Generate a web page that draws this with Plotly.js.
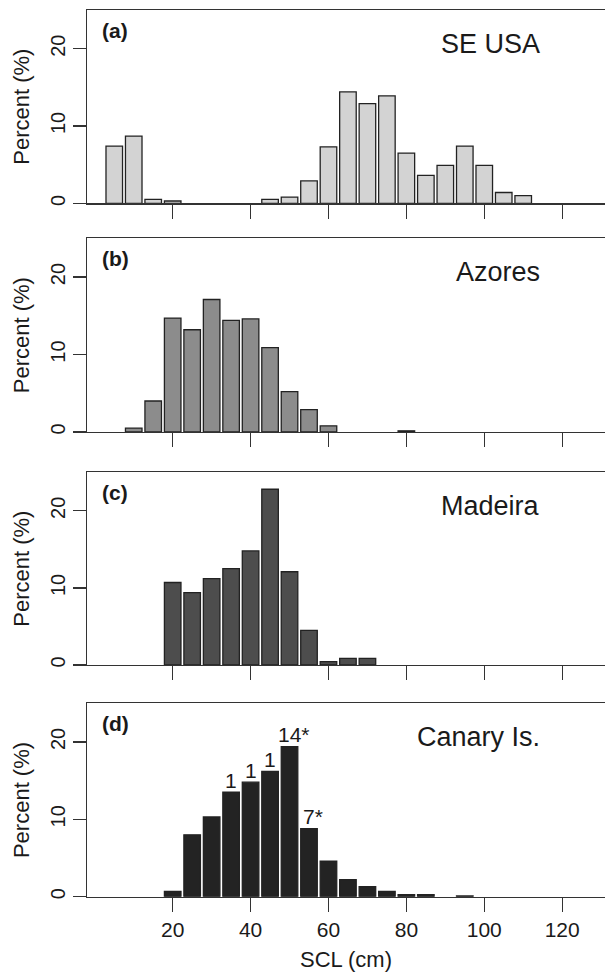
<!DOCTYPE html>
<html>
<head>
<meta charset="utf-8">
<script src="https://cdn.plot.ly/plotly-3.0.1.min.js"></script>
<style>html,body{margin:0;padding:0;background:#fff;overflow:hidden}#chart{width:605px;height:972px}</style>
</head>
<body>
<div id="chart"></div>
<script>
// SCL size-class bin centres (cm), 5-cm bins
const sclBins = [5,10,15,20,25,30,35,40,45,50,55,60,65,70,75,80,85,90,95,100,105,110];
// Percent of turtles in each bin
const seUSA   = [7.4,8.7,0.5,0.3,0,0,0,0,0.5,0.8,2.9,7.3,14.4,12.9,13.9,6.5,3.6,4.9,7.4,4.9,1.4,1.0];
const azores  = [0,0.5,4.0,14.7,13.2,17.1,14.4,14.6,10.9,5.2,2.9,0.8,0,0,0,0.15,0,0,0,0,0,0];
const madeira = [0,0,0,10.7,9.4,11.2,12.5,14.8,22.8,12.1,4.5,0.45,0.85,0.85,0,0,0,0,0,0,0,0];
const canary  = [0,0,0,0.7,8.0,10.3,13.5,14.8,16.2,19.4,8.8,4.6,2.2,1.3,0.7,0.25,0.25,0,0.1,0,0,0];
const panelNames  = ["SE USA","Azores","Madeira","Canary Is."];
const panelLetters = ["(a)","(b)","(c)","(d)"];
// Numbers printed above some Canary Is. bars
const canaryNoteBins = [35,40,45,50,55];
const canaryNotes    = ["1","1","1","14*","7*"];
const xTickVals = [20,40,60,80,100,120];

const series = [seUSA, azores, madeira, canary];
const fills = ["#d3d3d3","#8c8c8c","#4d4d4d","#232323"];

const H = 972, L = 87, W = 605;
// pixel top/bottom of each panel
const tops = [10, 238.3, 472.3, 703.3];
const bots = [203.3, 432, 665, 896.7];
const font = "Liberation Sans, Arial, Helvetica, sans-serif";
const ink = "#1a1a1a";

const data = [];
const layout = {
  width: W, height: H,
  margin: {l: L, r: 0, t: 0, b: 0},
  paper_bgcolor: "#fff", plot_bgcolor: "#fff",
  showlegend: false,
  bargap: 0.15,
  font: {family: font, color: ink},
  annotations: []
};

series.forEach((vals, i) => {
  const n = i + 1;
  const xa = n === 1 ? "x" : "x" + n;
  const ya = n === 1 ? "y" : "y" + n;
  data.push({
    type: "bar", x: sclBins, y: vals, xaxis: xa, yaxis: ya,
    marker: {color: fills[i], line: {color: "#222", width: vals.map(v => v > 0 ? 1.3 : 0)}},
    hoverinfo: "x+y"
  });
  const dom = [1 - bots[i] / H, 1 - tops[i] / H];
  layout["xaxis" + (n === 1 ? "" : n)] = {
    anchor: ya, domain: [0, 1], range: [-2, 131],
    showgrid: false, zeroline: false,
    showline: true, linecolor: "#333", linewidth: 1.3, mirror: true,
    ticks: "outside", ticklen: 14, tickwidth: 1.3, tickcolor: "#333",
    tickvals: xTickVals, showticklabels: n === 4,
    tickfont: {size: 21, family: font, color: ink},
    title: n === 4 ? {text: "SCL (cm)", font: {size: 22, family: font, color: ink}, standoff: 12} : undefined
  };
  layout["yaxis" + (n === 1 ? "" : n)] = {
    anchor: xa, domain: dom, range: [0, 25],
    showgrid: false, zeroline: false,
    showline: true, linecolor: "#333", linewidth: 1.3, mirror: false,
    ticks: "outside", ticklen: 13, tickwidth: 1.3, tickcolor: "#333",
    tickvals: [0, 10, 20], tickangle: -90,
    tickfont: {size: 20, family: font, color: ink},
    title: {text: "Percent (%)", font: {size: 22, family: font, color: ink}, standoff: 11}
  };
  layout.annotations.push({
    xref: "paper", yref: "paper", x: (100 - L) / (W - L), y: 1 - (tops[i] + 20) / H,
    xanchor: "left", yanchor: "middle", showarrow: false,
    text: "<b>" + panelLetters[i] + "</b>", font: {size: 21, family: font, color: ink}
  });
  layout.annotations.push({
    xref: "paper", yref: "paper", x: (542 - L) / (W - L), y: 1 - (tops[i] + 34) / H,
    xanchor: "right", yanchor: "middle", showarrow: false,
    text: panelNames[i], font: {size: 27, family: font, color: ink}
  });
});

canaryNoteBins.forEach((b, k) => {
  const v = canary[sclBins.indexOf(b)];
  layout.annotations.push({
    xref: "x4", yref: "y4", x: b, y: v, xanchor: "center", yanchor: "middle",
    xshift: canaryNotes[k].includes("*") ? 4 : 0, yshift: 12, showarrow: false,
    text: canaryNotes[k], font: {size: 21, family: font, color: ink}
  });
});

Plotly.newPlot("chart", data, layout, {staticPlot: true, displayModeBar: false});
</script>
</body>
</html>
